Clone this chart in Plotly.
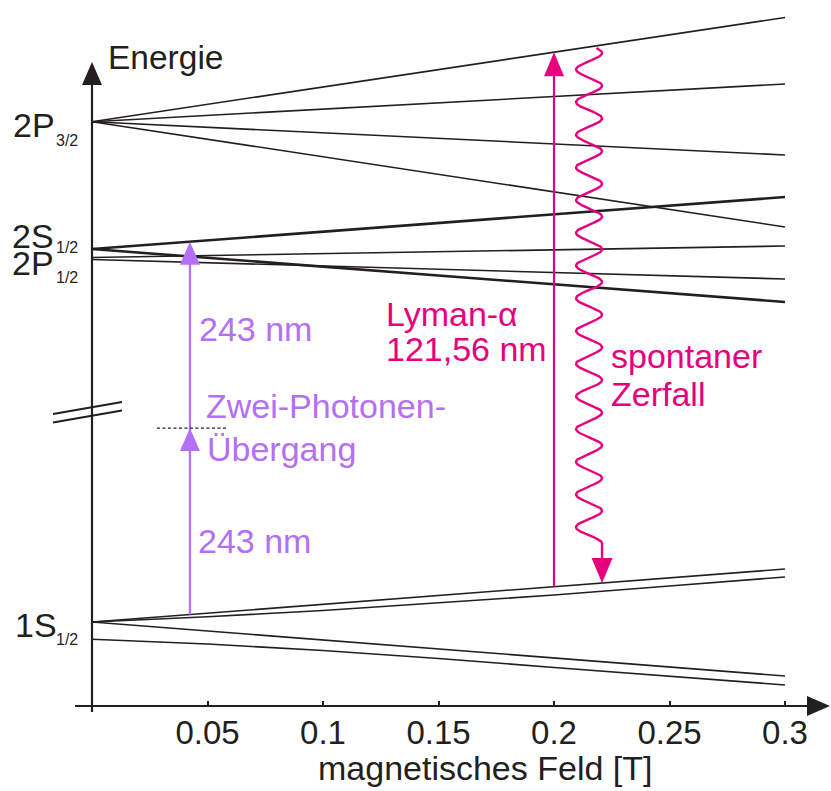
import numpy as np
import plotly.graph_objects as go

INK = "#231f20"
MAGENTA = "#e6007e"
VIOLET = "#b370f4"
FONT = "Liberation Sans, Arial, sans-serif"

# magnetic field samples [T]
B_ENDS = [0.0, 0.3]
B_GRID = [0.0, 0.05, 0.1, 0.15, 0.2, 0.25, 0.3]

# level energies (arbitrary units, field axis at 0)
P32_LEVELS = [[584.3, 688.5], [584.3, 622.0], [584.3, 551.0], [584.3, 479.0]]
S2_LEVELS = [[457.0, 509.0], [457.0, 404.0]]
P12_LEVELS = [[448.5, 460.0], [446.5, 427.0]]
S1_LINEAR = [[84.0, 137.0], [84.0, 30.0]]
S1_F1_M0 = [84.0, 89.2, 95.5, 103.0, 111.0, 120.0, 129.0]
S1_F0 = [66.7, 62.0, 55.5, 47.5, 38.5, 29.7, 21.0]

# transitions
TWO_PHOTON_B = 0.0424
LYMAN_B = 0.2
DECAY_B = 0.2208

TICK_VALS = [0.05, 0.1, 0.15, 0.2, 0.25, 0.3]
TICK_TEXT = ["0.05", "0.1", "0.15", "0.2", "0.25", "0.3"]

# canvas geometry: 2310 px per tesla, 1 px per energy unit
W, H = 831, 791
X0_PX, AXIS_PX, PX_PER_T = 92, 706, 2310.0
BELOW = 20                      # room under the field axis inside the plot area
PLOT_H = AXIS_PX + BELOW
XR = [(0 - X0_PX) / PX_PER_T, (W - X0_PX) / PX_PER_T]
YR = [-BELOW, AXIS_PX]


def dx(px):
    return px / PX_PER_T


def bx(px):
    return (px - X0_PX) / PX_PER_T


def ey(py):
    return AXIS_PX - py


def level_at(b, xs, ys):
    return float(np.interp(b, xs, ys))


fig = go.Figure()


def line(xs, ys, color=INK, width=1.6, dash=None):
    fig.add_trace(go.Scatter(x=xs, y=ys, mode="lines", hoverinfo="skip",
                             line=dict(color=color, width=width, dash=dash),
                             showlegend=False))


for lv in P32_LEVELS:
    line(B_ENDS, lv)
for lv in P12_LEVELS:
    line(B_ENDS, lv)
for lv in S2_LEVELS:
    line(B_ENDS, lv, width=2.6)
for lv in S1_LINEAR:
    line(B_ENDS, lv)
line(B_GRID, S1_F1_M0)
line(B_GRID, S1_F0)

shapes = []


def head(xc, tip, w_px, l_px, color, up=True):
    base = tip - l_px if up else tip + l_px
    shapes.append(dict(type="path", xref="x", yref="y", line=dict(width=0),
                       fillcolor=color,
                       path=f"M {xc - dx(w_px / 2)},{base} L {xc},{tip} "
                            f"L {xc + dx(w_px / 2)},{base} Z"))


# energy axis with arrow
y_top = ey(62)
line([0, 0], [ey(712), y_top - 22], width=2.2)
head(0, y_top, 20, 23, INK)
# field axis with arrow
x_left, x_tip = bx(75), bx(830)
line([x_left, x_tip - dx(20)], [0, 0], width=2.2)
shapes.append(dict(type="path", xref="x", yref="y", line=dict(width=0), fillcolor=INK,
                   path=f"M {x_tip - dx(23)},{10} L {x_tip},{0} L {x_tip - dx(23)},{-10} Z"))

# axis break marks
for off in (0, 8.5):
    line([bx(53), bx(122)], [ey(414) - off, ey(402) - off], width=2.0)

# two-photon excitation 1S -> 2S
s1_up = level_at(TWO_PHOTON_B, B_ENDS, S1_LINEAR[0])
s2_up = level_at(TWO_PHOTON_B, B_ENDS, S2_LEVELS[0])
mid = (s1_up + s2_up) / 2
line([TWO_PHOTON_B, TWO_PHOTON_B], [s1_up, s2_up - 20], color=VIOLET, width=2.2)
head(TWO_PHOTON_B, s2_up, 20, 23, VIOLET)
head(TWO_PHOTON_B, mid, 20, 23, VIOLET)
line([TWO_PHOTON_B - dx(33), TWO_PHOTON_B + dx(38)], [mid, mid], width=1.4, dash="3px,2.5px")

# Lyman-alpha absorption 1S -> 2P3/2
ly_lo = level_at(LYMAN_B, B_ENDS, S1_LINEAR[0])
ly_hi = level_at(LYMAN_B, B_ENDS, P32_LEVELS[0])
line([LYMAN_B, LYMAN_B], [ly_lo, ly_hi - 20], color=MAGENTA, width=2.2)
head(LYMAN_B, ly_hi, 20, 24, MAGENTA)

# spontaneous decay drawn as a wavy photon
amp = dx(13)
xc = DECAY_B - amp
wy = np.linspace(ey(48), ey(543.5), 900)
wx = xc + amp * np.cos(2 * np.pi * (ey(53) - wy) / 32.7)
decay_tip = level_at(DECAY_B, B_ENDS, S1_LINEAR[0])
wx = np.append(wx, DECAY_B)
wy = np.append(wy, decay_tip + 20)
line(wx, wy, color=MAGENTA, width=2.4)
head(DECAY_B, decay_tip, 21, 25, MAGENTA, up=False)

annotations = []


def label(text, px, py, size=34, color=INK):
    annotations.append(dict(text=text, x=bx(px), y=ey(py), xref="x", yref="y",
                            xanchor="left", yanchor="middle", showarrow=False,
                            font=dict(family=FONT, size=size, color=color)))


label("Energie", 106, 57, 33.5)
label("2P", 11, 125)
label("3/2", 54, 140, 16)
label("2S", 10, 236)
label("1/2", 54, 247, 16)
label("2P", 10, 263)
label("1/2", 54, 277, 16)
label("1S", 13, 625)
label("1/2", 54, 639, 16)
label("243 nm", 197, 329, color=VIOLET)
label("Zwei-Photonen-", 204, 406, color=VIOLET)
label("Übergang", 205, 449, color=VIOLET)
label("243 nm", 196, 541, color=VIOLET)
label("Lyman-α", 384, 314, color=MAGENTA)
label("121,56 nm", 384, 349, color=MAGENTA)
label("spontaner", 609, 356, color=MAGENTA)
label("Zerfall", 609, 394, color=MAGENTA)
annotations.append(dict(text="magnetisches Feld [T]", x=bx(485),
                        y=(PLOT_H - 768) / PLOT_H, xref="x", yref="paper",
                        xanchor="center", yanchor="middle", showarrow=False,
                        font=dict(family=FONT, size=34, color=INK)))

fig.update_layout(
    width=W, height=H,
    margin=dict(l=0, r=0, t=0, b=H - PLOT_H, pad=0),
    paper_bgcolor="white", plot_bgcolor="white",
    showlegend=False,
    shapes=shapes, annotations=annotations,
    xaxis=dict(range=XR, showgrid=False, zeroline=False, showline=False,
               anchor="free", position=BELOW / PLOT_H,
               ticks="inside", ticklen=5, tickwidth=1.6, tickcolor=INK,
               tickvals=TICK_VALS, ticktext=TICK_TEXT, ticklabelstandoff=4,
               tickfont=dict(family=FONT, size=33, color=INK)),
    yaxis=dict(range=YR, visible=False, showgrid=False, zeroline=False),
)

fig.write_html("out.html", config={"displayModeBar": False})
